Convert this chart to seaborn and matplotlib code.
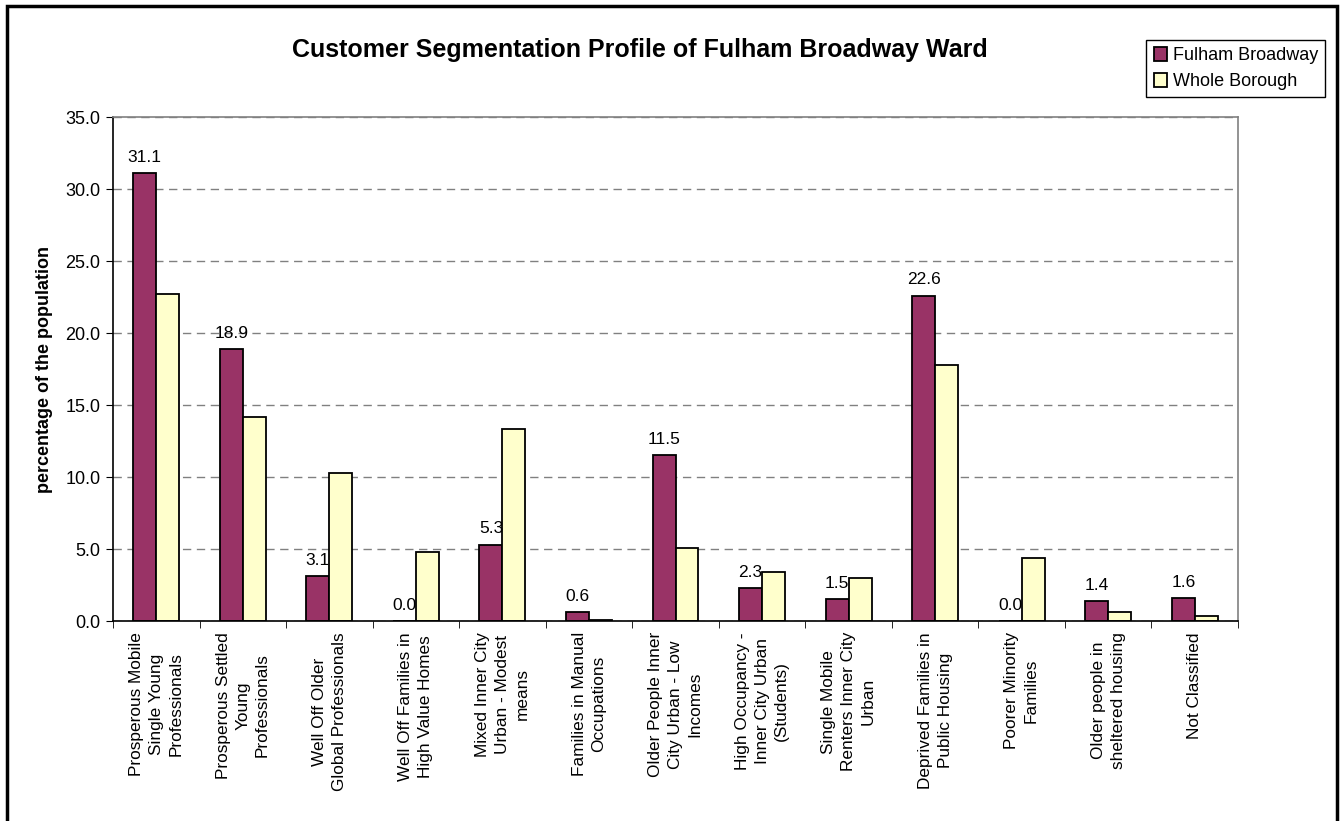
import pandas as pd
import seaborn as sns
import matplotlib.pyplot as plt
from matplotlib.patches import Rectangle

# data
categories = [
    "Prosperous Mobile\nSingle Young\nProfessionals",
    "Prosperous Settled\nYoung\nProfessionals",
    "Well Off Older\nGlobal Professionals",
    "Well Off Families in\nHigh Value Homes",
    "Mixed Inner City\nUrban - Modest\nmeans",
    "Families in Manual\nOccupations",
    "Older People Inner\nCity Urban - Low\nIncomes",
    "High Occupancy -\nInner City Urban\n(Students)",
    "Single Mobile\nRenters Inner City\nUrban",
    "Deprived Families in\nPublic Housing",
    "Poorer Minority\nFamilies",
    "Older people in\nsheltered housing",
    "Not Classified",
]
fulham = [31.1, 18.9, 3.1, 0.0, 5.3, 0.6, 11.5, 2.3, 1.5, 22.6, 0.0, 1.4, 1.6]
borough = [22.7, 14.2, 10.3, 4.8, 13.3, 0.1, 5.1, 3.4, 3.0, 17.8, 4.4, 0.65, 0.35]
series = ["Fulham Broadway", "Whole Borough"]
yticks = [0, 5, 10, 15, 20, 25, 30, 35]

df = pd.DataFrame({
    "segment": categories * 2,
    "area": [series[0]] * len(categories) + [series[1]] * len(categories),
    "pct": fulham + borough,
})

sns.set_style("white")
plt.rcParams['font.family'] = ['Liberation Sans', 'DejaVu Sans']
plt.rcParams['text.color'] = 'black'
plt.rcParams['axes.labelcolor'] = 'black'
plt.rcParams['xtick.color'] = 'black'
plt.rcParams['ytick.color'] = 'black'

W, H = 1340, 821
fig = plt.figure(figsize=(W / 100, H / 100), dpi=100)
ax = fig.add_axes([113 / W, 1 - 621 / H, (1238 - 113) / W, (621 - 117) / H])

sns.barplot(data=df, x="segment", y="pct", hue="area", order=categories,
            hue_order=series, palette=["#993366", "#FFFFCC"], width=0.53,
            edgecolor="black", linewidth=1.3, saturation=1, ax=ax)

# labels only on the ward bars
ax.bar_label(ax.containers[0], fmt="%.1f", padding=6, fontsize=12.5)

ax.set_ylim(0, 35)
ax.set_xlim(-0.5, len(categories) - 0.5)
ax.set_yticks(yticks)
ax.set_yticklabels([f"{v:.1f}" for v in yticks], fontsize=13)
ax.yaxis.grid(True, linestyle=(0, (6, 4)), color="#808080", linewidth=1)
ax.set_axisbelow(True)

# category labels centred, ticks at the boundaries
ax.set_xticks(range(len(categories)))
ax.set_xticklabels(categories, rotation=90, fontsize=12.4, va="top", ha="center",
                   multialignment="center", linespacing=1.4)
ax.tick_params(axis="x", length=0, pad=8)
ax.set_xticks([i + 0.5 for i in range(-1, len(categories))], minor=True)
ax.tick_params(axis="x", which="minor", length=5, direction="out", color="black",
               bottom=True)
ax.tick_params(axis="y", length=5, direction="out", color="black", left=True, pad=4)

for side in ["left", "bottom"]:
    ax.spines[side].set_color("black")
    ax.spines[side].set_linewidth(1.2)
for side in ["top", "right"]:
    ax.spines[side].set_color("#808080")
    ax.spines[side].set_linewidth(1.2)

ax.set_xlabel("")
ax.set_ylabel("percentage of the population", fontsize=13, fontweight="bold", labelpad=9)

fig.text(640 / W, 1 - 50 / H, "Customer Segmentation Profile of Fulham Broadway Ward",
         ha="center", va="center", fontsize=18, fontweight="bold")

handles, labels = ax.get_legend_handles_labels()
ax.get_legend().remove()
leg = fig.legend(handles, labels, loc="upper right",
                 bbox_to_anchor=(1325 / W, 1 - 40 / H), fontsize=13,
                 fancybox=False, edgecolor="black", framealpha=1,
                 handlelength=0.75, handleheight=0.75, handletextpad=0.3,
                 borderpad=0.4, labelspacing=0.5, borderaxespad=0)
leg.get_frame().set_linewidth(1)

# outer chart border
fig.patches.append(Rectangle((7 / W, -0.01), (1337 - 7) / W, 1.01 - 6 / H,
                             transform=fig.transFigure, fill=False,
                             edgecolor="black", linewidth=2.5))

fig.savefig("out.png", dpi=100)
